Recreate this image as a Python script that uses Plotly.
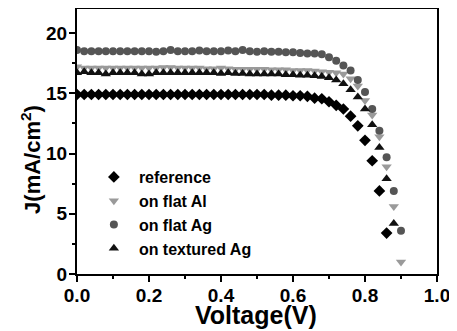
import plotly.graph_objects as go

# Voltage grid (V) for each series
v_ref = [round(0.02 * i, 2) for i in range(44)]      # 0.00 .. 0.86
v_al = [round(0.02 * i, 2) for i in range(46)]       # 0.00 .. 0.90
v_ag = [round(0.02 * i, 2) for i in range(46)]       # 0.00 .. 0.90
v_tex = [round(0.02 * i, 2) for i in range(45)]      # 0.00 .. 0.88

# Current density J (mA/cm^2)
j_ref = [14.9, 14.9, 14.9, 14.9, 14.9, 14.9, 14.9, 14.9, 14.9, 14.9,
         14.9, 14.9, 14.9, 14.9, 14.9, 14.9, 14.9, 14.9, 14.9, 14.9,
         14.9, 14.9, 14.9, 14.9, 14.9, 14.9, 14.9, 14.85, 14.85, 14.85,
         14.8, 14.8, 14.75, 14.6, 14.55, 14.3, 14.0, 13.7, 13.1, 12.3,
         11.1, 9.4, 6.9, 3.4]
j_al = [17.2, 17.1, 17.1, 17.1, 17.1, 17.1, 17.1, 17.1, 17.1, 17.1,
        17.1, 17.1, 17.15, 17.15, 17.1, 17.1, 17.1, 17.1, 17.05, 17.05,
        17.1, 17.05, 17.0, 17.0, 17.0, 17.0, 17.0, 16.95, 16.95, 16.95,
        16.9, 16.9, 16.9, 16.85, 16.8, 16.75, 16.7, 16.6, 16.2, 15.6,
        14.4, 13.2, 11.4, 8.9, 5.6, 1.0]
j_ag = [18.6, 18.5, 18.5, 18.5, 18.5, 18.5, 18.5, 18.5, 18.5, 18.5,
        18.5, 18.45, 18.5, 18.6, 18.5, 18.5, 18.5, 18.55, 18.5, 18.5,
        18.5, 18.55, 18.5, 18.6, 18.5, 18.45, 18.5, 18.45, 18.45, 18.4,
        18.4, 18.35, 18.3, 18.3, 18.25, 18.0, 17.7, 17.3, 16.9, 16.1,
        15.1, 13.7, 11.9, 9.7, 6.9, 3.6]
j_tex = [16.7, 16.8, 16.7, 16.7, 16.6, 16.7, 16.7, 16.7, 16.7, 16.6,
         16.6, 16.7, 16.7, 16.7, 16.7, 16.7, 16.7, 16.7, 16.7, 16.7,
         16.65, 16.7, 16.65, 16.65, 16.6, 16.6, 16.6, 16.6, 16.6, 16.55,
         16.55, 16.5, 16.5, 16.45, 16.4, 16.3, 16.1, 15.8, 15.3, 14.7,
         13.7, 12.4, 10.5, 7.9, 4.2]

names = ["reference", "on flat Al", "on flat Ag", "on textured Ag"]
x_ticks = [0.0, 0.2, 0.4, 0.6, 0.8, 1.0]
x_ticktext = ["0.0", "0.2", "0.4", "0.6", "0.8", "1.0"]
y_ticks = [0, 5, 10, 15, 20]

FONT = "Liberation Sans, Arial, sans-serif"

fig = go.Figure()
fig.add_trace(go.Scatter(x=v_ref, y=j_ref, mode="markers", name=names[0],
                         marker=dict(symbol="diamond", size=9, color="#000000")))
fig.add_trace(go.Scatter(x=v_al, y=j_al, mode="markers", name=names[1],
                         marker=dict(symbol="triangle-down", size=9, color="#9a9a9a")))
fig.add_trace(go.Scatter(x=v_ag, y=j_ag, mode="markers", name=names[2],
                         marker=dict(symbol="circle", size=8, color="#555555")))
fig.add_trace(go.Scatter(x=v_tex, y=j_tex, mode="markers", name=names[3],
                         marker=dict(symbol="triangle-up", size=9, color="#111111")))

axis_common = dict(showline=True, linecolor="black", linewidth=2, mirror=True,
                   ticks="outside", ticklen=6, tickwidth=2, tickcolor="black",
                   showgrid=False, zeroline=False, automargin=False,
                   tickfont=dict(family=FONT, size=19, color="black", weight="bold"))

fig.update_xaxes(range=[0, 1.0], tickvals=x_ticks, ticktext=x_ticktext,
                 ticklabelstandoff=-3,
                 minor=dict(ticks="outside", ticklen=3, tickwidth=2, tickcolor="black", dtick=0.1),
                 **axis_common)
fig.update_yaxes(range=[0, 22], tickvals=y_ticks,
                 ticklabelstandoff=-2,
                 minor=dict(ticks="outside", ticklen=3, tickwidth=2, tickcolor="black", dtick=2.5),
                 **axis_common)

fig.add_annotation(text="J(mA/cm<sup>2</sup>)", xref="paper", yref="paper",
                   x=-0.128, y=0.434, xanchor="center", yanchor="middle",
                   textangle=-90, showarrow=False,
                   font=dict(family=FONT, size=22, color="black", weight="bold"))
fig.add_annotation(text="Voltage(V)", xref="paper", yref="paper",
                   x=0.497, y=-0.094, xanchor="center", yanchor="top",
                   showarrow=False,
                   font=dict(family=FONT, size=25, color="black", weight="bold"))

# The page body has an 8px margin, so the figure is sized to fit the window.
fig.update_layout(
    width=449, height=323,
    margin=dict(l=69, r=20, t=1, b=57),
    paper_bgcolor="white", plot_bgcolor="white",
    showlegend=True,
    legend=dict(x=0.033, y=0.43, xanchor="left", yanchor="top",
                bgcolor="rgba(0,0,0,0)", borderwidth=0,
                font=dict(family=FONT, size=16, color="black", weight="bold"),
                itemwidth=40, tracegroupgap=0),
)

fig.write_html("out.html")
